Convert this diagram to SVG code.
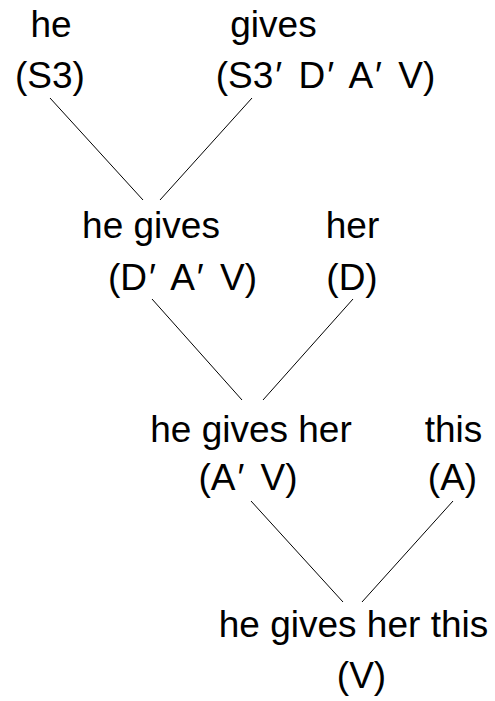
<svg xmlns="http://www.w3.org/2000/svg" width="495" height="701" viewBox="0 0 495 701">
  <style>
    text { font-family: "Liberation Sans", Arial, sans-serif; font-size: 37px; fill: #000; text-anchor: middle; }
    .edge { stroke: #000; stroke-width: 1; fill: none; }
  </style>
  <rect width="495" height="701" fill="#fff"/>
  <g id="connectors">
    <line class="edge" x1="50" y1="98" x2="143" y2="200"/>
    <line class="edge" x1="252" y1="98" x2="160" y2="200"/>
    <line class="edge" x1="152" y1="299" x2="242" y2="400"/>
    <line class="edge" x1="353" y1="299" x2="263" y2="400"/>
    <line class="edge" x1="251" y1="501" x2="343" y2="602"/>
    <line class="edge" x1="453" y1="501" x2="362" y2="602"/>
  </g>
  <g id="he">
    <text x="51" y="37">he</text>
    <text x="50" y="88">(S3)</text>
  </g>
  <g id="gives">
    <text x="273.5" y="37">gives</text>
    <text x="325.5" y="88">(S3<tspan dx="2">′</tspan><tspan dx="6"> D</tspan><tspan dx="2">′</tspan><tspan dx="6"> A</tspan><tspan dx="2">′</tspan><tspan dx="6"> V)</tspan></text>
  </g>
  <g id="he-gives">
    <text x="151" y="238">he gives</text>
    <text x="182.5" y="290">(D<tspan dx="2">′</tspan><tspan dx="6"> A</tspan><tspan dx="2">′</tspan><tspan dx="6"> V)</tspan></text>
  </g>
  <g id="her">
    <text x="352.5" y="238">her</text>
    <text x="352" y="290">(D)</text>
  </g>
  <g id="he-gives-her">
    <text x="251" y="442">he gives her</text>
    <text x="248" y="490">(A<tspan dx="2">′</tspan><tspan dx="6"> V)</tspan></text>
  </g>
  <g id="this">
    <text x="453.5" y="442">this</text>
    <text x="452.5" y="490">(A)</text>
  </g>
  <g id="he-gives-her-this">
    <text x="353.5" y="637">he gives her this</text>
    <text x="361.5" y="688">(V)</text>
  </g>
</svg>
